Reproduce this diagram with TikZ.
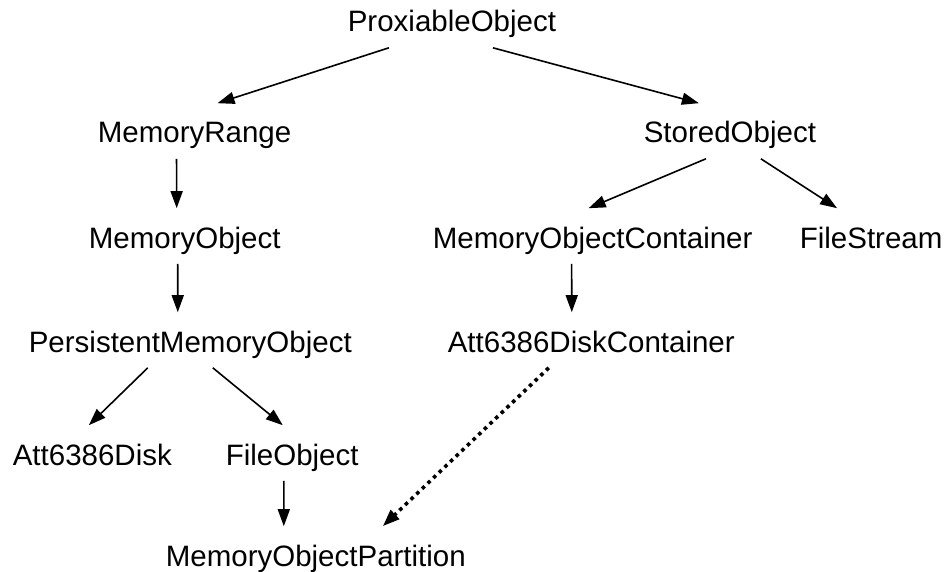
\documentclass[tikz,border=0pt]{standalone}
\usepackage{fontspec}
\setmainfont{Liberation Sans}
\usepackage{tikz}
\usetikzlibrary{arrows.meta}

\begin{document}
\begin{tikzpicture}[x=1pt,y=-1pt,line width=1.6pt]
        \tikzstyle{cls}=[anchor=base west,inner xsep=0pt,inner ysep=15pt,text height=24pt,text depth=0pt,font=\fontsize{29.5}{35}\selectfont]
        \tikzstyle{arr}=[-{Triangle[length=17pt,width=12pt]}]
        \tikzstyle{dep}=[arr,line width=3.6pt,dash pattern=on 3.6pt off 4.2pt]
        \useasboundingbox (0,0) rectangle (948,572);
        % class names, placed at left end of baseline
        \node[cls] (po) at (347,32) {ProxiableObject};
        \node[cls] (mr) at (97,143) {MemoryRange};
        \node[cls] (so) at (643,143) {StoredObject};
        \node[cls] (mo) at (88,248) {MemoryObject};
        \node[cls] (moc) at (432,248) {MemoryObjectContainer};
        \node[cls] (fs) at (799,248) {FileStream};
        \node[cls] (pmo) at (28,352) {PersistentMemoryObject};
        \node[cls] (adc) at (447,352) {Att6386DiskContainer};
        \node[cls] (ad) at (12,465) {Att6386Disk};
        \node[cls] (fo) at (225,465) {FileObject};
        \node[cls] (mop) at (165,566) {MemoryObjectPartition};
        % inheritance
        \path[arr] ([xshift=-63pt]po.south) edge ([xshift=23pt]mr.north);
        \path[arr] ([xshift=41pt]po.south) edge ([xshift=-31pt]so.north);
        \path[arr] ([xshift=-18pt]mr.south) edge ([xshift=-8pt]mo.north);
        \path[arr] ([xshift=-7pt]mo.south) edge ([xshift=-12.5pt]pmo.north);
        \path[arr] ([xshift=-24pt]so.south) edge ([xshift=-4pt]moc.north);
        \path[arr] ([xshift=31pt]so.south) edge ([xshift=-34pt]fs.north);
        \path[arr] ([xshift=-21pt]moc.south) edge ([xshift=-19.5pt]adc.north);
        \path[arr] ([xshift=-42.5pt]pmo.south) edge ([xshift=-3.5pt]ad.north);
        \path[arr] ([xshift=22.5pt]pmo.south) edge ([xshift=-9.4pt]fo.north);
        \path[arr] ([xshift=-8.4pt]fo.south) edge ([xshift=-32pt]mop.north);
        % container -> partition
        \path[dep] ([xshift=-42.5pt]adc.south) edge ([xshift=67pt]mop.north);
    \end{tikzpicture}
\end{document}
